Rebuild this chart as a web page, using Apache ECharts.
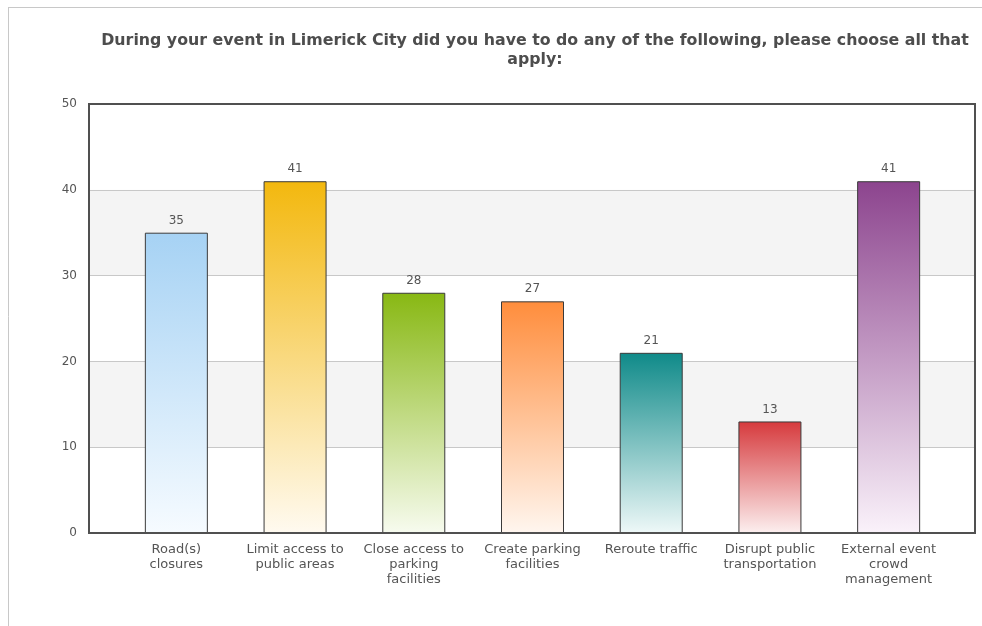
<!DOCTYPE html>
<html>
<head>
<meta charset="utf-8">
<script src="https://cdn.jsdelivr.net/npm/echarts@6/dist/echarts.min.js"></script>
<style>
  html, body { margin: 0; padding: 0; background: #fff; }
  #chart { width: 982px; height: 626px; }
</style>
</head>
<body>
<div id="chart"></div>
<script>
// Survey responses: actions taken during events in Limerick City
const titleText = 'During your event in Limerick City did you have to do any of the following, please choose all that\napply:';
const categories = [
  'Road(s)\nclosures',
  'Limit access to\npublic areas',
  'Close access to\nparking\nfacilities',
  'Create parking\nfacilities',
  'Reroute traffic',
  'Disrupt public\ntransportation',
  'External event\ncrowd\nmanagement'
];
const counts = [35, 41, 28, 27, 21, 13, 41];
// top / bottom colours of each bar's vertical gradient
const topColors = ['#a6d2f4', '#f3b80e', '#88b813', '#ff8d3c', '#0f8a89', '#d63a3d', '#8c448e'];
const bottomColors = ['#f6fbff', '#fffaf0', '#f7fbef', '#fff6ef', '#eef8f8', '#fcefef', '#faf2fa'];
const yTicks = { min: 0, max: 50, interval: 10 };

const chart = echarts.init(document.getElementById('chart'), null, { renderer: 'canvas' });

const gridTop = 104, gridBottom = 93;

chart.setOption({
  animation: false,
  backgroundColor: '#ffffff',
  textStyle: { fontFamily: 'DejaVu Sans' },
  title: {
    text: titleText,
    left: 530,
    top: 26,
    textAlign: 'center',
    textStyle: { fontFamily: 'DejaVu Sans', fontWeight: 'bold', fontSize: 15.8, color: '#4d4d4d', lineHeight: 19 }
  },
  graphic: [
    { type: 'line', shape: { x1: 8, y1: 7.5, x2: 982, y2: 7.5 }, style: { stroke: '#c8c8c8', lineWidth: 1 } },
    { type: 'line', shape: { x1: 8.5, y1: 7, x2: 8.5, y2: 626 }, style: { stroke: '#c8c8c8', lineWidth: 1 } }
  ],
  grid: [
    // frame with banded background
    { left: 89, right: 7, top: gridTop, bottom: gridBottom, show: true, z: 5, borderColor: '#505050', borderWidth: 2, backgroundColor: 'transparent' },
    // inset plotting area for the bars
    { left: 117, right: 34, top: gridTop, bottom: gridBottom }
  ],
  xAxis: [
    { gridIndex: 0, type: 'category', data: ['a'], show: false },
    {
      gridIndex: 1, type: 'category', data: categories,
      axisLine: { show: false }, axisTick: { show: false },
      axisLabel: { interval: 0, color: '#555', fontSize: 13, lineHeight: 15, margin: 9, fontFamily: 'DejaVu Sans' }
    }
  ],
  yAxis: [
    {
      gridIndex: 0, type: 'value', min: yTicks.min, max: yTicks.max, interval: yTicks.interval,
      axisLine: { show: false }, axisTick: { show: false },
      axisLabel: { color: '#555', fontSize: 12, margin: 12, fontFamily: 'DejaVu Sans' },
      splitLine: { show: true, lineStyle: { color: '#c8c8c8', width: 1 } },
      splitArea: { show: true, areaStyle: { color: ['#ffffff', '#f4f4f4'] } }
    },
    { gridIndex: 1, type: 'value', min: yTicks.min, max: yTicks.max, interval: yTicks.interval, show: false, splitLine: { show: false } }
  ],
  series: [{
    type: 'bar',
    xAxisIndex: 1,
    yAxisIndex: 1,
    barWidth: 63,
    data: counts.map((v, i) => ({
      value: v,
      itemStyle: {
        color: new echarts.graphic.LinearGradient(0, 0, 0, 1, [
          { offset: 0, color: topColors[i] },
          { offset: 1, color: bottomColors[i] }
        ]),
        borderColor: '#3a3a3a',
        borderWidth: 1
      }
    })),
    label: { show: true, position: 'top', distance: 6, color: '#555', fontSize: 12, fontFamily: 'DejaVu Sans' }
  }]
});
</script>
</body>
</html>
